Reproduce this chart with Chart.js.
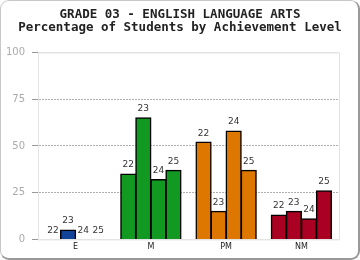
<!DOCTYPE html>
<html>
<head>
<meta charset="utf-8">
<script src="https://cdn.jsdelivr.net/npm/chart.js@4/dist/chart.umd.min.js"></script>
<style>
  body { margin: 0; background: #fff; }
  #wrap { position: relative; width: 360px; height: 260px; }
  #frame { position: absolute; left: 0; top: 0; width: 357px; height: 257px;
           border: 1px solid #c8c8c8; border-right: 2px solid #999; border-bottom: 2px solid #999;
           border-radius: 9px; pointer-events: none; }
  canvas { position: absolute; left: 0; top: 0; }
</style>
</head>
<body>
<div id="wrap">
  <canvas id="chart" width="360" height="260"></canvas>
  <div id="frame"></div>
</div>
<script>
// Données du graphique
const levels = ['E', 'M', 'PM', 'NM'];
const years = ['22', '23', '24', '25'];
const levelColors = ['#114499', '#119922', '#dd7700', '#aa0022'];
const yTicks = [0, 25, 50, 75, 100];

// pourcentage par année, dans l'ordre des niveaux
const pct22 = [0, 35, 52, 13];
const pct23 = [5, 65, 15, 15];
const pct24 = [0, 32, 58, 11];
const pct25 = [0, 37, 37, 26];
const series = [pct22, pct23, pct24, pct25];

// étiquette d'année au-dessus de chaque barre
const yearLabels = {
    id: 'yearLabels',
    afterDatasetsDraw(chart) {
        const ctx = chart.ctx;
        ctx.save();
        ctx.font = '9px "DejaVu Sans"';
        ctx.fillStyle = '#333';
        ctx.textAlign = 'center';
        ctx.textBaseline = 'middle';
        chart.data.datasets.forEach((ds, i) => {
            chart.getDatasetMeta(i).data.forEach(bar => {
                ctx.fillText(ds.label, bar.x, bar.y - 9);
            });
        });
        ctx.restore();
    }
};

// cadre clair autour de la zone de tracé
const plotFrame = {
    id: 'plotFrame',
    beforeDatasetsDraw(chart) {
        const a = chart.chartArea;
        const ctx = chart.ctx;
        ctx.save();
        ctx.strokeStyle = '#e4e4e4';
        ctx.lineWidth = 1;
        ctx.strokeRect(a.left + 0.5, a.top + 0.5, a.right - a.left, a.bottom - a.top);
        ctx.restore();
    }
};

new Chart(document.getElementById('chart'), {
    type: 'bar',
    data: {
        labels: levels,
        datasets: series.map((vals, i) => ({
            label: years[i],
            data: vals,
            backgroundColor: levelColors,
            borderColor: '#000',
            borderWidth: 1.5,
            inflateAmount: 0.6,
            categoryPercentage: 0.8,
            barPercentage: 1.0
        }))
    },
    options: {
        responsive: false,
        animation: false,
        layout: { padding: { left: 0, right: 0, top: 0, bottom: 5 } },
        plugins: {
            legend: { display: false },
            tooltip: { enabled: false },
            title: {
                display: true,
                text: ['GRADE 03 - ENGLISH LANGUAGE ARTS', 'Percentage of Students by Achievement Level'],
                font: { family: '"DejaVu Sans Mono"', size: 12.5, weight: 'bold', lineHeight: 1.0 },
                color: '#222',
                padding: { top: 8.5, bottom: 19 }
            }
        },
        scales: {
            x: {
                grid: { display: false, drawTicks: false },
                border: { display: false },
                ticks: { font: { family: '"DejaVu Sans"', size: 8 }, color: '#222', padding: 3 }
            },
            y: {
                min: 0,
                max: 100,
                afterBuildTicks: scale => { scale.ticks = yTicks.map(v => ({ value: v })); },
                afterFit: scale => { scale.width = 38; },
                ticks: { font: { family: '"DejaVu Sans"', size: 10 }, color: '#aaa', padding: 7 },
                grid: {
                    color: ctx => (ctx.tick && (ctx.tick.value === 0 || ctx.tick.value === 100)) ? '#e4e4e4' : '#b0b0b0',
                    tickColor: '#999',
                    tickLength: 6,
                    tickBorderDash: [],
                    lineWidth: 1
                },
                border: {
                    color: '#e4e4e4',
                    dash: ctx => (ctx.tick && (ctx.tick.value === 0 || ctx.tick.value === 100)) ? [] : [2, 1]
                }
            },
            // axe vide à droite, pour garder la marge sans décaler le titre
            yRight: {
                position: 'right',
                display: true,
                grid: { display: false, drawTicks: false },
                border: { display: false },
                ticks: { display: false },
                afterFit: scale => { scale.width = 21; }
            }
        }
    },
    plugins: [plotFrame, yearLabels]
});
</script>
</body>
</html>
